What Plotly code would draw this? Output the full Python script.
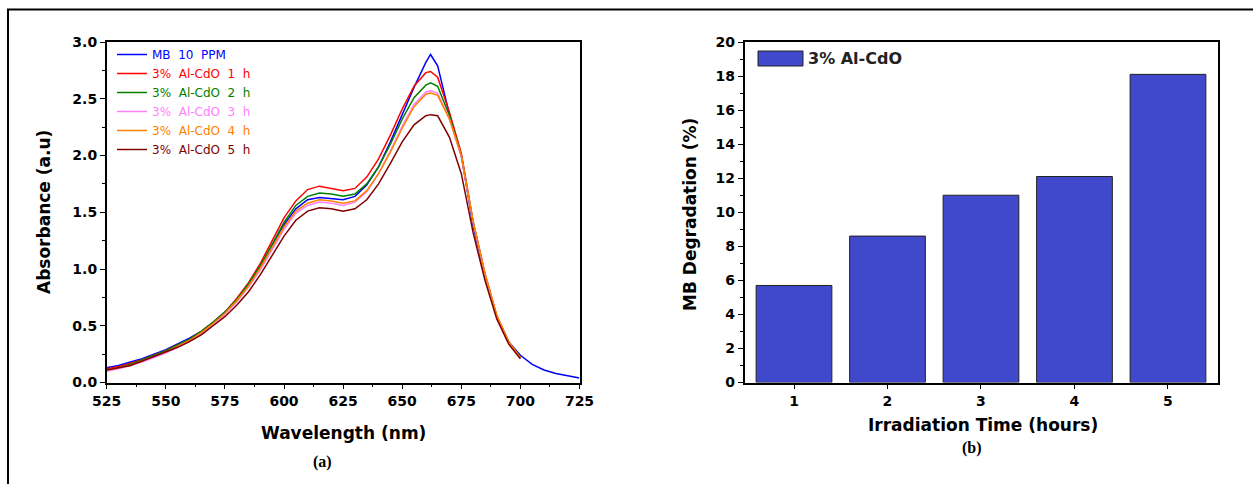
import plotly.graph_objects as go

# ---------------- data: panel (a) UV-Vis spectra ----------------
wl = [525, 530, 535, 540, 545, 550, 555, 560, 565, 570, 575, 580, 585, 590, 595,
      600, 605, 610, 615, 620, 625, 630, 635, 640, 645, 650, 655, 660, 662, 665,
      670, 675, 680, 685, 690, 695, 700]
wl_mb = wl + [705, 710, 715, 720, 725]

mb_10ppm = [0.13, 0.15, 0.18, 0.21, 0.25, 0.29, 0.34, 0.39, 0.45, 0.53, 0.62, 0.73, 0.86, 1.02, 1.21,
            1.39, 1.53, 1.61, 1.63, 1.62, 1.61, 1.64, 1.74, 1.90, 2.12, 2.36, 2.60, 2.82, 2.89, 2.79,
            2.36, 2.00, 1.38, 0.94, 0.58, 0.36, 0.24, 0.16, 0.11, 0.08, 0.06, 0.04]
alcdo_1h = [0.12, 0.14, 0.17, 0.20, 0.24, 0.28, 0.33, 0.38, 0.45, 0.53, 0.62, 0.74, 0.88, 1.05, 1.25,
            1.45, 1.60, 1.70, 1.73, 1.71, 1.69, 1.71, 1.81, 1.97, 2.18, 2.41, 2.61, 2.73, 2.74, 2.69,
            2.38, 2.02, 1.42, 0.96, 0.59, 0.36, 0.22]
alcdo_2h = [0.11, 0.13, 0.16, 0.20, 0.24, 0.28, 0.33, 0.38, 0.45, 0.53, 0.62, 0.73, 0.87, 1.03, 1.22,
            1.41, 1.56, 1.64, 1.67, 1.66, 1.64, 1.66, 1.75, 1.90, 2.10, 2.32, 2.51, 2.62, 2.64, 2.61,
            2.35, 2.00, 1.41, 0.95, 0.58, 0.36, 0.22]
alcdo_3h = [0.10, 0.12, 0.15, 0.18, 0.22, 0.26, 0.31, 0.36, 0.43, 0.51, 0.60, 0.71, 0.84, 0.99, 1.17,
            1.35, 1.49, 1.56, 1.59, 1.58, 1.56, 1.59, 1.68, 1.84, 2.04, 2.26, 2.45, 2.56, 2.57, 2.55,
            2.32, 1.99, 1.41, 0.95, 0.58, 0.35, 0.21]
alcdo_4h = [0.11, 0.13, 0.15, 0.19, 0.23, 0.27, 0.32, 0.37, 0.44, 0.52, 0.61, 0.72, 0.85, 1.01, 1.19,
            1.37, 1.51, 1.58, 1.61, 1.60, 1.58, 1.60, 1.69, 1.84, 2.03, 2.24, 2.43, 2.54, 2.55, 2.53,
            2.32, 2.00, 1.42, 0.96, 0.59, 0.36, 0.22]
alcdo_5h = [0.11, 0.13, 0.15, 0.19, 0.23, 0.27, 0.31, 0.36, 0.42, 0.50, 0.58, 0.68, 0.80, 0.95, 1.12,
            1.29, 1.43, 1.51, 1.54, 1.53, 1.51, 1.53, 1.61, 1.75, 1.93, 2.12, 2.27, 2.35, 2.36, 2.35,
            2.16, 1.84, 1.32, 0.90, 0.56, 0.34, 0.21]

series_names = ["MB  10  PPM", "3%  Al-CdO  1  h", "3%  Al-CdO  2  h",
                "3%  Al-CdO  3  h", "3%  Al-CdO  4  h", "3%  Al-CdO  5  h"]
series_colors = ["#0000FF", "#FF0000", "#008000", "#FF80FF", "#FF8000", "#800000"]

# ---------------- data: panel (b) degradation ----------------
hours = [1, 2, 3, 4, 5]
degradation = [5.7, 8.6, 11.0, 12.1, 18.1]

W, H = 1253, 484
def px(x):
    return x / W
def py(y):
    return 1 - y / H

fig = go.Figure()

ys = [mb_10ppm, alcdo_1h, alcdo_2h, alcdo_3h, alcdo_4h, alcdo_5h]
xs = [wl_mb, wl, wl, wl, wl, wl]
for name, col, x, y in zip(series_names, series_colors, xs, ys):
    fig.add_trace(go.Scatter(
        x=x, y=y, mode="lines", line=dict(color=col, width=1.5, shape="linear"),
        name=f"<span style='color:{col}'>{name}</span>",
        xaxis="x", yaxis="y", showlegend=True))

fig.add_trace(go.Bar(
    x=hours, y=degradation, width=0.81, marker=dict(color="#4048CC", line=dict(color="#222222", width=1)),
    name="3% Al-CdO", xaxis="x2", yaxis="y2", showlegend=False))

tickfont = dict(family="DejaVu Sans", size=14, color="black", weight="bold")
axis_common = dict(showline=True, linecolor="black", linewidth=1.5, mirror=True,
                   ticks="outside", ticklen=5, tickwidth=1.2, tickcolor="black",
                   showgrid=False, zeroline=False, tickfont=tickfont, automargin=False)

y0, y1 = py(382.5), py(42)
fig.update_layout(
    template="none",
    width=W, height=H,
    margin=dict(l=0, r=0, t=0, b=0, pad=0, autoexpand=False),
    paper_bgcolor="white", plot_bgcolor="white",
    xaxis=dict(domain=[px(106.7), px(579.5)], range=[525, 725], tickvals=list(range(525, 726, 25)),
               minor=dict(ticks="outside", ticklen=3, tickcolor="black", dtick=12.5, tick0=525),
               anchor="y", **axis_common),
    yaxis=dict(domain=[y0, y1], range=[0, 3.0], tickvals=[0, 0.5, 1.0, 1.5, 2.0, 2.5, 3.0],
               ticktext=["0.0", "0.5", "1.0", "1.5", "2.0", "2.5", "3.0"],
               minor=dict(ticks="outside", ticklen=3, tickcolor="black", dtick=0.25, tick0=0),
               anchor="x", **axis_common),
    xaxis2=dict(domain=[px(744.5), px(1218)], range=[0.4706, 5.535], tickvals=hours,
                anchor="y2", **axis_common),
    yaxis2=dict(domain=[y0, y1], range=[0, 20], tickvals=list(range(0, 21, 2)),
                minor=dict(ticks="outside", ticklen=3, tickcolor="black", dtick=1, tick0=0),
                anchor="x2", **axis_common),
    legend=dict(x=px(112), y=py(40), xanchor="left", yanchor="top",
                bgcolor="rgba(0,0,0,0)", borderwidth=0,
                font=dict(family="DejaVu Sans", size=12), tracegroupgap=0),
    showlegend=True,
)

title_font = dict(family="DejaVu Sans", size=17, color="black", weight="bold")
ann = [
    dict(text="Absorbance (a.u)", x=px(44), y=py(212), textangle=-90, font=title_font),
    dict(text="Wavelength (nm)", x=px(343), y=py(433), font=title_font),
    dict(text="MB Degradation (%)", x=px(690), y=py(215), textangle=-90, font=title_font),
    dict(text="Irradiation Time (hours)", x=px(983), y=py(425), font=title_font),
    dict(text="(a)", x=px(322), y=py(462), font=dict(family="Liberation Serif", size=16, color="black", weight="bold")),
    dict(text="(b)", x=px(972), y=py(448), font=dict(family="Liberation Serif", size=16, color="black", weight="bold")),
    dict(text="3% Al-CdO", x=px(806), y=py(59), xanchor="left",
         font=dict(family="DejaVu Sans", size=16, color="#222222", weight="bold")),
]
for a in ann:
    a.setdefault("xanchor", "center")
    fig.add_annotation(xref="paper", yref="paper", showarrow=False, yanchor="middle", **a)

# legend swatch for panel (b) and outer frame
fig.add_shape(type="rect", xref="paper", yref="paper", x0=px(758), x1=px(803), y0=py(51), y1=py(66),
              fillcolor="#4048CC", line=dict(color="#222222", width=1))
fig.add_shape(type="rect", xref="paper", yref="paper", x0=px(8), x1=px(1260), y0=py(9.5), y1=py(495),
              fillcolor="rgba(0,0,0,0)", line=dict(color="black", width=2))

fig.write_html("out.html")
